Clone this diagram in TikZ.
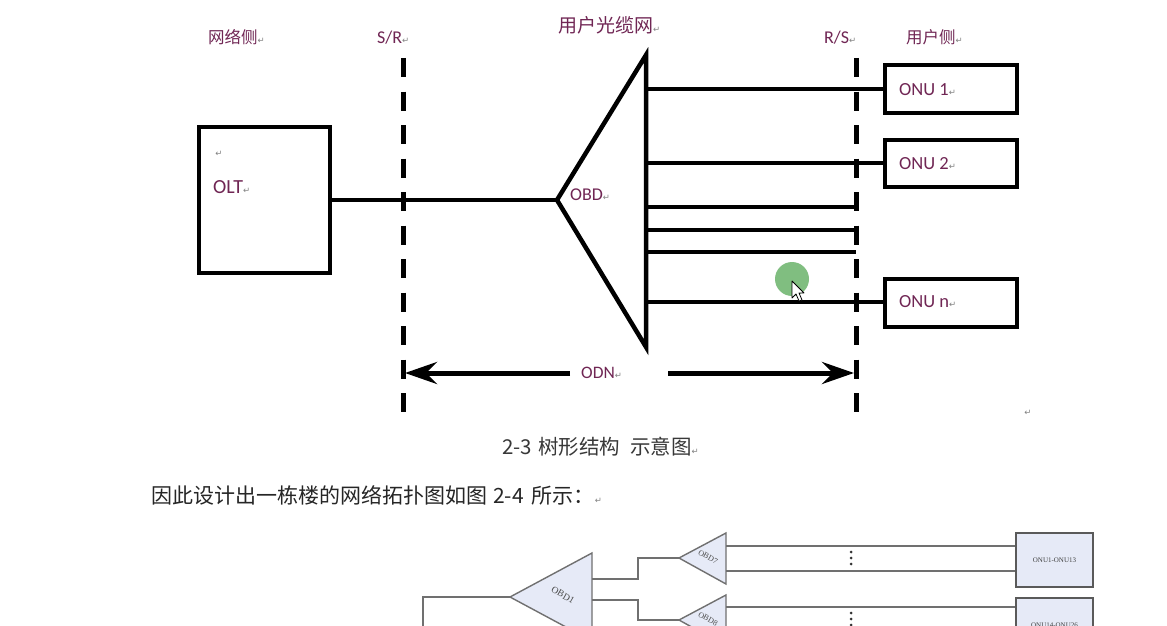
\documentclass[tikz,border=0pt]{standalone}
\usepackage{fontspec}
\setmainfont{Carlito}
\newfontfamily\cjk{Noto Sans CJK SC}
\newfontfamily\dvs{DejaVu Sans}
\newfontfamily\tnr{Liberation Serif}
\usetikzlibrary{arrows.meta}
\definecolor{labc}{RGB}{112,38,84}
\definecolor{retc}{RGB}{130,130,130}
\definecolor{obdfill}{RGB}{230,234,247}
\definecolor{bgray}{RGB}{112,112,112}
\definecolor{clickg}{RGB}{115,183,115}
\newcommand\retm{{\dvs\fontsize{8.5}{9}\selectfont\color{retc}↵}}
\tikzset{
  lab/.style={text=labc, inner sep=0pt, anchor=west},
  thickbox/.style={draw=black, line width=4pt, fill=white, inner sep=0pt},
  fiber/.style={draw=black, line width=4pt},
  refline/.style={draw=black, line width=5pt, dash pattern=on 19pt off 14.5pt},
  odnarrow/.style={draw=black, line width=5pt, -{Stealth[length=32pt,width=22pt,inset=11pt]}},
  bline/.style={draw=bgray, line width=1.4pt},
  tri/.style={draw=bgray, line width=1.4pt, fill=obdfill, line join=miter},
  obox/.style={draw=bgray!80!black, line width=1.4pt, fill=obdfill, inner sep=0pt, font=\tnr\fontsize{7}{8}\selectfont, text=black!75},
  obdtext/.style={rotate=-30, inner sep=0pt, text=black!70},
}
\begin{document}
\begin{tikzpicture}[x=1pt,y=-1pt]
\useasboundingbox (0,0) rectangle (1167,626);
\fill[white] (0,0) rectangle (1167,626);
\begin{scope}
\clip (0,0) rectangle (1167,626);

% ---------- top labels ----------
\node[lab, font=\cjk\fontsize{16.5}{18}\selectfont] (netside) at (208,37) {网络侧\retm};
\node[lab, font=\fontsize{18}{20}\selectfont] (srlab) at (377,38) {S/R\retm};
\node[lab, font=\cjk\fontsize{19}{21}\selectfont] (cable) at (558,25) {用户光缆网\retm};
\node[lab, font=\fontsize{18}{20}\selectfont] (rslab) at (824,38) {R/S\retm};
\node[lab, font=\cjk\fontsize{16.5}{18}\selectfont] (userside) at (906,37) {用户侧\retm};

% ---------- reference points (dashed) ----------
\coordinate (srtop) at (403,58);
\coordinate (srbot) at (403,412);
\coordinate (rstop) at (856,58);
\coordinate (rsbot) at (856,412);

% ---------- OLT ----------
\node[thickbox, minimum width=131pt, minimum height=146pt] (olt) at (264.5,200) {};
\node[lab, font=\fontsize{20}{22}\selectfont] (oltlab) at (213,187) {OLT\retm};
\node[inner sep=0pt] (oltret) at (219,154) {\retm};

% ---------- OBD splitter ----------
\coordinate (apex) at (557,200);
\coordinate (ttop) at (646,55);
\coordinate (tbot) at (646,347);
\draw[line width=4.5pt, line join=miter] (apex) -- (ttop) -- (tbot) -- cycle;
\node[lab, font=\fontsize{18}{20}\selectfont] (obdlab) at (570,195) {OBD\retm};
\draw[fiber] (olt.east) -- (apex);

% ---------- ONUs ----------
\node[thickbox, minimum width=132pt, minimum height=47pt] (onu1) at (951,89) {};
\node[thickbox, minimum width=132pt, minimum height=47pt] (onu2) at (951,163) {};
\node[thickbox, minimum width=132pt, minimum height=48pt] (onun) at (951,303) {};
\node[lab, font=\fontsize{18.5}{20}\selectfont] (onu1lab) at (899,90) {ONU 1\retm};
\node[lab, font=\fontsize{18.5}{20}\selectfont] (onu2lab) at (899,164) {ONU 2\retm};
\node[lab, font=\fontsize{18.5}{20}\selectfont] (onunlab) at (899,302) {ONU n\retm};

% branches
\coordinate (b1) at (646,89);
\coordinate (b2) at (646,163);
\coordinate (b3) at (646,207);
\coordinate (b4) at (646,230);
\coordinate (b5) at (646,252);
\coordinate (b6) at (646,302);
\coordinate (e3) at (856,207);
\coordinate (e4) at (856,230);
\coordinate (e5) at (856,252);
\draw[fiber] (b1) -- (onu1.west);
\draw[fiber] (b2) -- (onu2.west);
\draw[fiber] (b3) -- (e3);
\draw[fiber] (b4) -- (e4);
\draw[fiber] (b5) -- (e5);
\draw[fiber] (b6) -- (onun.west |- b6);

% dashed reference lines
\draw[refline] (srtop) -- (srbot);
\draw[refline] (rstop) -- (rsbot);

% ---------- ODN span ----------
\node[lab, font=\fontsize{17.5}{19}\selectfont] (odn) at (581,373) {ODN\retm};
\coordinate (odnl) at (570,373);
\coordinate (odnr) at (668,373);
\coordinate (tipl) at (405,373);
\coordinate (tipr) at (854,373);
\draw[odnarrow] (odnl) -- (tipl);
\draw[odnarrow] (odnr) -- (tipr);
\node[inner sep=0pt] (ret2) at (1028,413) {\retm};

% ---------- click indicator ----------
\fill[clickg, opacity=0.9] (792,279) circle (17);
\draw[black, line width=0.8pt, fill=white, line join=round]
  (792,281) -- (792,298) -- (796,294) -- (799,301) -- (802,300) -- (799,293) -- (804,293) -- cycle;

% ---------- caption and body text ----------
\node[anchor=west, inner sep=0pt, text=black!78, font=\cjk\fontsize{20.5}{22}\selectfont] (caption) at (502,447) {2-3\hspace{6pt}树形结构\hspace{10pt}示意图\retm};
\node[anchor=west, inner sep=0pt, text=black!85, font=\cjk\fontsize{21}{23}\selectfont] (body) at (151,495) {因此设计出一栋楼的网络拓扑图如图\hspace{6pt}2-4\hspace{8pt}所示：\retm};

% ---------- second (partial) diagram ----------
\coordinate (o1apex) at (510,597);
\coordinate (o1top) at (592,553);
\coordinate (o1bot) at (592,641);
\coordinate (o7apex) at (679,558);
\coordinate (o7top) at (726,533);
\coordinate (o7bot) at (726,584);
\coordinate (o8apex) at (679,620);
\coordinate (o8top) at (726,595);
\coordinate (o8bot) at (726,646);
\coordinate (feed) at (423,597);
\coordinate (feeddown) at (423,660);

\draw[bline] (feeddown) -- (feed) -- (o1apex);
\draw[tri] (o1apex) -- (o1top) -- (o1bot) -- cycle;
\draw[tri] (o7apex) -- (o7top) -- (o7bot) -- cycle;
\draw[tri] (o8apex) -- (o8top) -- (o8bot) -- cycle;
\node[obdtext, font=\tnr\fontsize{9.5}{10}\selectfont] (obd1lab) at (563,595) {OBD1};
\node[obdtext, font=\tnr\fontsize{8}{8}\selectfont] (obd7lab) at (708,557) {OBD7};
\node[obdtext, font=\tnr\fontsize{8}{8}\selectfont] (obd8lab) at (708,619) {OBD8};

\draw[bline] (592,579) -- (638,579) -- (638,558) -- (o7apex);
\draw[bline] (592,600) -- (638,600) -- (638,620) -- (o8apex);

\node[obox, minimum width=77pt, minimum height=54pt] (onuA) at (1054.5,560) {ONU1-ONU13};
\node[obox, minimum width=77pt, minimum height=54pt] (onuB) at (1054.5,625) {ONU14-ONU26};

\draw[bline] (726,546) -- (onuA.west |- 0,546);
\draw[bline] (726,571) -- (onuA.west |- 0,571);
\draw[bline] (726,607) -- (onuB.west |- 0,607);
\draw[bline] (726,632) -- (onuB.west |- 0,632);

\foreach \yy in {552,558,564} \fill[black!80] (851,\yy) circle (1.5);
\foreach \yy in {613,619,625} \fill[black!80] (851,\yy) circle (1.5);

\end{scope}
\end{tikzpicture}
\end{document}
